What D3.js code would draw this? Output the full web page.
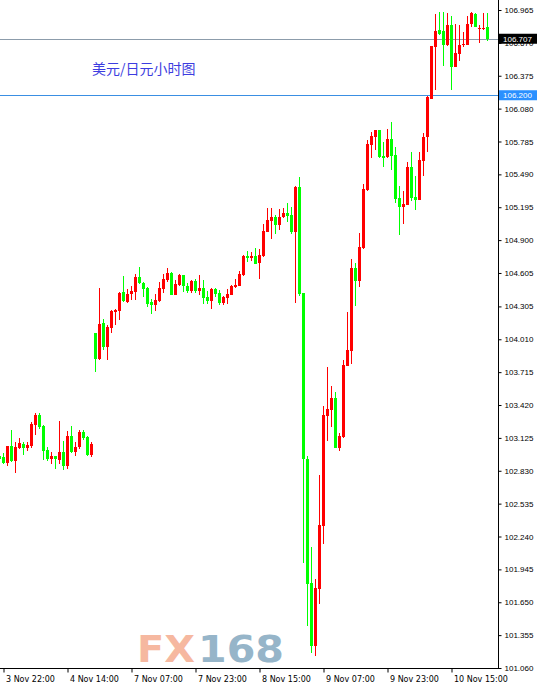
<!DOCTYPE html>
<html>
<head>
<meta charset="utf-8">
<script src="https://cdn.jsdelivr.net/npm/d3@7"></script>
<style>
  body { margin: 0; background: #fff; }
  svg { display: block; }
</style>
</head>
<body>
<div class="chart"></div>
<script>
// USD/JPY hourly candles (MT4 style)

// Data
// ==============================
var opens = [
  102.962, 102.956, 102.902, 103.052, 102.917, 103.037, 103.073, 103.037, 103.052, 103.243,
  103.330, 103.232, 103.016, 102.938, 102.962, 102.926, 102.998, 102.873, 103.142, 102.998,
  103.043, 103.178, 103.133, 102.971,
  104.069, 103.833, 104.156, 103.941, 104.111, 104.255, 104.264, 104.434, 104.344, 104.416,
  104.434, 104.569, 104.515, 104.470, 104.344, 104.318, 104.353, 104.461, 104.542, 104.605,
  104.407, 104.497, 104.587, 104.488, 104.443, 104.533, 104.443, 104.470, 104.389, 104.353,
  104.461, 104.425, 104.336, 104.380, 104.407, 104.479, 104.488, 104.587, 104.757, 104.739,
  104.757, 104.694, 104.757, 104.973, 105.071, 105.107, 105.036, 105.107, 105.143, 105.125,
  104.973, 105.377, 104.425, 102.935, 101.823, 101.257, 101.769, 102.334, 103.321, 103.375,
  103.483, 103.034, 103.133, 103.770, 103.905, 104.650, 104.533, 104.829, 105.350, 105.753,
  105.825, 105.888, 105.655, 105.646, 105.807, 105.664, 105.278, 105.197, 105.215, 105.556,
  105.287, 105.260, 105.610, 105.825, 106.166, 106.633, 106.785, 106.776, 106.651, 106.830,
  106.453, 106.570, 106.651, 106.651, 106.839, 106.929, 106.794, 106.794, 106.812
];
var highs = [
  102.980, 102.989, 103.055, 103.196, 103.088, 103.124, 103.088, 103.088, 103.268, 103.346,
  103.346, 103.238, 103.041, 103.001, 102.962, 103.277, 103.097, 103.187, 103.232, 103.088,
  103.196, 103.196, 103.142, 103.088,
  104.069, 104.470, 104.192, 104.138, 104.273, 104.282, 104.434, 104.578, 104.461, 104.488,
  104.596, 104.658, 104.524, 104.479, 104.371, 104.416, 104.524, 104.596, 104.650, 104.614,
  104.542, 104.596, 104.587, 104.515, 104.542, 104.551, 104.587, 104.542, 104.443, 104.470,
  104.470, 104.452, 104.398, 104.461, 104.497, 104.551, 104.623, 104.766, 104.802, 104.793,
  104.829, 104.820, 105.044, 105.188, 105.188, 105.125, 105.179, 105.188, 105.233, 105.197,
  105.386, 105.466, 104.425, 102.962, 102.146, 101.859, 102.792, 103.411, 103.761, 103.591,
  103.537, 103.169, 103.824, 104.255, 104.730, 104.694, 104.964, 105.403, 105.798, 105.870,
  105.888, 105.888, 105.780, 105.897, 105.960, 105.736, 105.386, 105.341, 105.601, 105.691,
  105.475, 105.691, 105.861, 106.193, 106.642, 106.929, 106.947, 106.947, 106.938, 106.911,
  106.839, 106.830, 106.768, 106.911, 106.947, 106.938, 106.830, 106.938, 106.938
];
var lows = [
  102.909, 102.891, 102.876, 102.909, 102.813, 103.023, 102.971, 103.010, 103.034, 103.151,
  103.207, 102.926, 102.917, 102.891, 102.846, 102.891, 102.837, 102.846, 102.989, 102.962,
  103.025, 103.106, 102.962, 102.953,
  103.716, 103.824, 103.914, 103.824, 104.066, 104.138, 104.183, 104.344, 104.336, 104.362,
  104.362, 104.506, 104.389, 104.300, 104.237, 104.264, 104.344, 104.425, 104.524, 104.407,
  104.407, 104.488, 104.434, 104.425, 104.425, 104.425, 104.407, 104.327, 104.327, 104.282,
  104.389, 104.318, 104.318, 104.327, 104.407, 104.470, 104.488, 104.578, 104.703, 104.712,
  104.685, 104.551, 104.748, 104.973, 104.910, 104.955, 104.991, 105.098, 105.062, 104.955,
  104.336, 104.398, 102.002, 101.437, 101.195, 101.168, 101.634, 102.173, 103.097, 103.223,
  103.034, 103.007, 103.124, 103.770, 103.788, 104.309, 104.479, 104.820, 105.341, 105.637,
  105.709, 105.637, 105.556, 105.637, 105.529, 105.233, 104.946, 105.044, 105.215, 105.251,
  105.170, 105.260, 105.475, 105.691, 106.166, 106.247, 106.741, 106.462, 106.642, 106.247,
  106.453, 106.507, 106.633, 106.651, 106.812, 106.812, 106.669, 106.785, 106.687
];
var closes = [
  102.935, 102.902, 103.052, 102.917, 103.043, 103.079, 103.037, 103.061, 103.250, 103.330,
  103.223, 103.007, 102.935, 102.962, 102.935, 102.998, 102.873, 103.142, 102.998, 103.043,
  103.178, 103.124, 102.971, 103.070,
  103.833, 104.147, 103.941, 104.120, 104.264, 104.273, 104.425, 104.353, 104.416, 104.443,
  104.569, 104.515, 104.461, 104.327, 104.318, 104.362, 104.470, 104.551, 104.605, 104.407,
  104.506, 104.587, 104.488, 104.443, 104.533, 104.443, 104.470, 104.380, 104.353, 104.461,
  104.416, 104.336, 104.389, 104.416, 104.488, 104.497, 104.596, 104.757, 104.739, 104.757,
  104.685, 104.766, 104.982, 105.080, 105.107, 105.036, 105.107, 105.143, 105.116, 104.973,
  105.377, 104.416, 102.935, 101.814, 101.257, 101.778, 102.343, 103.330, 103.384, 103.483,
  103.034, 103.142, 103.779, 103.914, 104.650, 104.533, 104.838, 105.359, 105.762, 105.834,
  105.888, 105.646, 105.637, 105.807, 105.655, 105.269, 105.197, 105.224, 105.556, 105.278,
  105.260, 105.619, 105.825, 106.184, 106.642, 106.776, 106.750, 106.651, 106.830, 106.453,
  106.579, 106.651, 106.660, 106.839, 106.938, 106.812, 106.803, 106.803, 106.705
];

var yTickValues = [106.965, 106.670, 106.375, 106.080, 105.785, 105.490, 105.195, 104.900, 104.605,
  104.305, 104.010, 103.715, 103.420, 103.125, 102.830, 102.535, 102.240, 101.945, 101.650,
  101.355, 101.060];

var xTickBars = [1, 17, 33, 49, 65, 81, 97, 113];
var xTickLabels = ["3 Nov 22:00", "4 Nov 14:00", "7 Nov 07:00", "7 Nov 23:00",
  "8 Nov 15:00", "9 Nov 07:00", "9 Nov 23:00", "10 Nov 15:00"];

var askLevel = 106.707;
var markLevel = 106.200;
var title = "美元/日元小时图";

// Layout
// ==============================
var svgWidth = 540;
var svgHeight = 691;
var plotRight = 498;
var plotBottom = 668;

var svg = d3.select(".chart")
  .append("svg")
  .attr("width", svgWidth)
  .attr("height", svgHeight)
  .style("background", "#fff");

var bars = d3.range(closes.length);

// Scales
var xScale = d3.scaleLinear()
  .domain([0, bars.length - 1])
  .range([-0.5, -0.5 + 4 * (bars.length - 1)]);

var yScale = d3.scaleLinear()
  .domain([101.060, 106.965])
  .range([plotBottom, 10]);

// Watermark
var logo = svg.append("g")
  .attr("font-family", "DejaVu Sans, sans-serif")
  .attr("font-weight", "bold")
  .attr("font-size", 37);

logo.append("text")
  .attr("x", 137)
  .attr("y", 662)
  .attr("textLength", 58)
  .attr("lengthAdjust", "spacingAndGlyphs")
  .attr("fill", "#f6b8a0")
  .text("FX");

logo.append("text")
  .attr("x", 198)
  .attr("y", 662)
  .attr("textLength", 86)
  .attr("lengthAdjust", "spacingAndGlyphs")
  .attr("fill", "#96b5c9")
  .text("168");

// Title
svg.append("text")
  .attr("x", 92)
  .attr("y", 74)
  .attr("font-family", "Noto Sans CJK SC, sans-serif")
  .attr("font-size", 14)
  .attr("fill", "#3d3de0")
  .text(title);

// Level lines
svg.append("line")
  .attr("x1", 0).attr("x2", plotRight)
  .attr("y1", Math.round(yScale(askLevel)) + 0.5)
  .attr("y2", Math.round(yScale(askLevel)) + 0.5)
  .attr("stroke", "#8c9cab");

svg.append("line")
  .attr("x1", 0).attr("x2", plotRight)
  .attr("y1", Math.round(yScale(markLevel)) + 0.5)
  .attr("y2", Math.round(yScale(markLevel)) + 0.5)
  .attr("stroke", "#3a8fe3");

// Candles
var upColor = "#ff0000";
var downColor = "#00ff00";
var color = i => closes[i] >= opens[i] ? upColor : downColor;

var candles = svg.append("g")
  .attr("shape-rendering", "crispEdges");

candles.selectAll(".wick")
  .data(bars)
  .enter()
  .append("rect")
  .attr("class", "wick")
  .attr("x", i => xScale(i) - 0.5)
  .attr("width", 1)
  .attr("y", i => yScale(highs[i]))
  .attr("height", i => Math.max(1, yScale(lows[i]) - yScale(highs[i])))
  .attr("fill", color);

candles.selectAll(".body")
  .data(bars)
  .enter()
  .append("rect")
  .attr("class", "body")
  .attr("x", i => xScale(i) - 1.5)
  .attr("width", 3)
  .attr("y", i => yScale(Math.max(opens[i], closes[i])))
  .attr("height", i => Math.max(1, Math.abs(yScale(opens[i]) - yScale(closes[i]))))
  .attr("fill", color);

// Axes
var rightAxis = d3.axisRight(yScale)
  .tickValues(yTickValues)
  .tickSize(3)
  .tickPadding(3)
  .tickFormat(d3.format(".3f"));

var yAxisG = svg.append("g")
  .attr("transform", `translate(${plotRight + 0.5}, 0)`)
  .call(rightAxis);
yAxisG.select(".domain").remove();
yAxisG.selectAll("text")
  .attr("font-family", "Liberation Sans, Arial, sans-serif")
  .attr("font-size", 8)
  .attr("fill", "#000");
yAxisG.selectAll("line").attr("stroke", "#000");

var bottomAxis = d3.axisBottom(xScale)
  .tickValues(xTickBars)
  .tickSize(4)
  .tickFormat((d, k) => xTickLabels[k]);

var xAxisG = svg.append("g")
  .attr("transform", `translate(0, ${plotBottom + 0.5})`)
  .call(bottomAxis);
xAxisG.select(".domain").remove();
xAxisG.selectAll("line").attr("stroke", "#000");
xAxisG.selectAll("text")
  .attr("text-anchor", "start")
  .attr("x", 2)
  .attr("y", 8)
  .attr("font-family", "DejaVu Sans, sans-serif")
  .attr("font-size", 8)
  .attr("fill", "#000");

// frame lines
svg.append("line")
  .attr("x1", plotRight + 0.5).attr("x2", plotRight + 0.5)
  .attr("y1", 0).attr("y2", plotBottom + 1)
  .attr("stroke", "#000");
svg.append("line")
  .attr("x1", 0).attr("x2", plotRight + 1)
  .attr("y1", plotBottom + 0.5).attr("y2", plotBottom + 0.5)
  .attr("stroke", "#000");

// Price tags
function priceTag(value, bg) {
  var yy = yScale(value);
  svg.append("rect")
    .attr("x", plotRight + 1)
    .attr("y", yy - 5)
    .attr("width", 38)
    .attr("height", 10)
    .attr("fill", bg);
  svg.append("text")
    .attr("x", plotRight + 5)
    .attr("y", yy)
    .attr("dy", "0.35em")
    .attr("font-family", "Liberation Sans, Arial, sans-serif")
    .attr("font-size", 8)
    .attr("fill", "#fff")
    .text(d3.format(".3f")(value));
}
priceTag(askLevel, "#000000");
priceTag(markLevel, "#2a90ff");
</script>
</body>
</html>
